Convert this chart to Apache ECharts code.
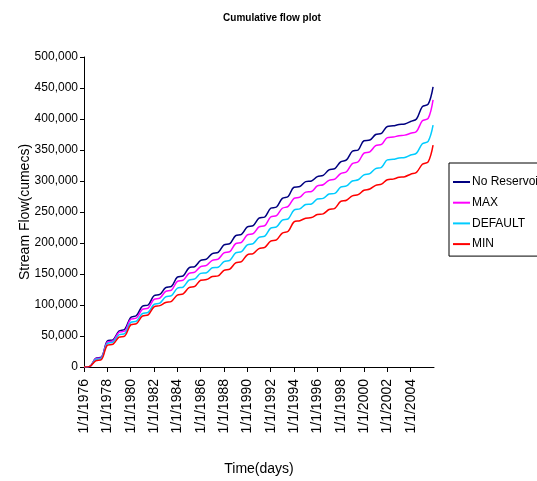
<!DOCTYPE html>
<html>
<head>
<meta charset="utf-8">
<script src="https://cdn.jsdelivr.net/npm/echarts@6/dist/echarts.min.js"></script>
<style>
  html, body { margin: 0; padding: 0; background: #fff; }
  #chart { width: 537px; height: 481px; }
</style>
</head>
<body>
<div id="chart"></div>
<script>
// Time positions in decimal years: 1 January and 1 July of each year, plus the last day.
const timePoints = [
  1976, 1976.5, 1977, 1977.5, 1978, 1978.5, 1979, 1979.5, 1980, 1980.5,
  1981, 1981.5, 1982, 1982.5, 1983, 1983.5, 1984, 1984.5, 1985, 1985.5,
  1986, 1986.5, 1987, 1987.5, 1988, 1988.5, 1989, 1989.5, 1990, 1990.5,
  1991, 1991.5, 1992, 1992.5, 1993, 1993.5, 1994, 1994.5, 1995, 1995.5,
  1996, 1996.5, 1997, 1997.5, 1998, 1998.5, 1999, 1999.5, 2000, 2000.5,
  2001, 2001.5, 2002, 2002.5, 2003, 2003.5, 2004, 2004.5, 2005, 2005.5,
  2005.92
];

// Cumulative stream flow (cumecs) for each scenario
const noReservoir = [
  0, 1000, 14000, 16000, 42000, 44000, 58000, 61000, 80000, 83000,
  98000, 100000, 115000, 117000, 128000, 130000, 145000, 147000, 160000, 162000,
  172000, 174000, 183000, 185000, 197000, 199000, 212000, 214000, 226000, 228000,
  240000, 242000, 256000, 258000, 272000, 275000, 290000, 291000, 299000, 300000,
  307000, 309000, 318000, 320000, 331000, 334000, 348000, 350000, 365000, 366000,
  375000, 377000, 388000, 389000, 391000, 392000, 396000, 400000, 420000, 424000,
  452000
];
const maxFlow = [
  0, 1000, 13000, 15000, 40000, 42000, 56000, 58000, 77000, 79000,
  93000, 95000, 109000, 111000, 122000, 124000, 138000, 140000, 151000, 153000,
  162000, 164000, 172000, 174000, 184000, 186000, 199000, 201000, 213000, 215000,
  226000, 228000, 242000, 244000, 256000, 259000, 272000, 274000, 282000, 283000,
  292000, 294000, 301000, 303000, 312000, 315000, 328000, 331000, 345000, 347000,
  357000, 359000, 370000, 371000, 373000, 374000, 377000, 380000, 397000, 401000,
  431000
];
const defaultFlow = [
  0, 1000, 12000, 14000, 38000, 40000, 52000, 54000, 72000, 74000,
  86000, 88000, 101000, 103000, 113000, 115000, 127000, 129000, 140000, 142000,
  151000, 152000, 160000, 161000, 170000, 172000, 184000, 186000, 197000, 199000,
  209000, 211000, 224000, 226000, 237000, 239000, 253000, 255000, 262000, 263000,
  271000, 272000, 279000, 280000, 290000, 292000, 300000, 302000, 310000, 312000,
  320000, 322000, 334000, 335000, 337000, 338000, 342000, 345000, 360000, 364000,
  390000
];
const minFlow = [
  0, 1000, 10000, 12000, 35000, 37000, 48000, 50000, 68000, 70000,
  82000, 84000, 97000, 99000, 104000, 106000, 116000, 118000, 128000, 130000,
  140000, 141000, 146000, 147000, 156000, 158000, 168000, 170000, 181000, 183000,
  191000, 193000, 203000, 205000, 216000, 219000, 234000, 236000, 240000, 241000,
  246000, 247000, 254000, 256000, 267000, 269000, 276000, 278000, 285000, 287000,
  293000, 295000, 302000, 303000, 306000, 307000, 311000, 314000, 327000, 331000,
  358000
];

const seriesNames = ['No Reservoir', 'MAX', 'DEFAULT', 'MIN'];
const seriesColors = ['#000080', '#FF00FF', '#00CCFF', '#FF0000'];
const seriesValues = [noReservoir, maxFlow, defaultFlow, minFlow];

const font = 'Liberation Sans, Arial, sans-serif';

const chart = echarts.init(document.getElementById('chart'), null, { renderer: 'canvas' });

chart.setOption({
  animation: false,
  backgroundColor: '#ffffff',
  title: {
    text: 'Cumulative flow plot',
    left: 267, top: 8, textAlign: 'center',
    textStyle: { fontFamily: font, fontSize: 10, fontWeight: 'bold', color: '#000' }
  },
  legend: {
    orient: 'vertical',
    left: 449, top: 163,
    padding: [13, 6, 6, 4],
    itemGap: 8.7,
    itemWidth: 17, itemHeight: 2,
    icon: 'rect',
    borderColor: '#000', borderWidth: 1,
    textStyle: { fontFamily: font, fontSize: 12, color: '#000', padding: [0, 0, 0, -3] },
    data: seriesNames
  },
  grid: { left: 84, right: 103, top: 57, bottom: 114, containLabel: false },
  xAxis: {
    type: 'value',
    min: 1976, max: 2006, interval: 2,
    name: 'Time(days)',
    nameLocation: 'middle',
    nameGap: 95,
    nameMoveOverlap: false,
    nameTextStyle: { fontFamily: font, fontSize: 14, color: '#000' },
    axisLine: { lineStyle: { color: '#000', width: 1 } },
    axisTick: { show: true, length: 5, inside: false, lineStyle: { color: '#000' } },
    splitLine: { show: false },
    axisLabel: {
      rotate: 90, margin: 12,
      fontFamily: font, fontSize: 14, color: '#000',
      showMaxLabel: false,
      formatter: v => '1/1/' + v
    }
  },
  yAxis: {
    type: 'value',
    min: 0, max: 500000, interval: 50000,
    name: 'Stream Flow(cumecs)',
    nameLocation: 'middle',
    nameGap: 52,
    nameMoveOverlap: false,
    nameTextStyle: { fontFamily: font, fontSize: 14, color: '#000' },
    axisLine: { show: true, lineStyle: { color: '#000', width: 1 } },
    axisTick: { show: true, length: 4, lineStyle: { color: '#000' } },
    splitLine: { show: false },
    axisLabel: {
      margin: 6,
      fontFamily: font, fontSize: 12, color: '#000',
      formatter: v => v.toLocaleString('en-US')
    }
  },
  series: seriesNames.map((name, i) => ({
    name: name,
    type: 'line',
    smooth: 0.35,
    symbol: 'none',
    color: seriesColors[i],
    lineStyle: { width: 1.5, color: seriesColors[i] },
    data: timePoints.map((t, j) => [t, seriesValues[i][j]])
  }))
});
</script>
</body>
</html>
